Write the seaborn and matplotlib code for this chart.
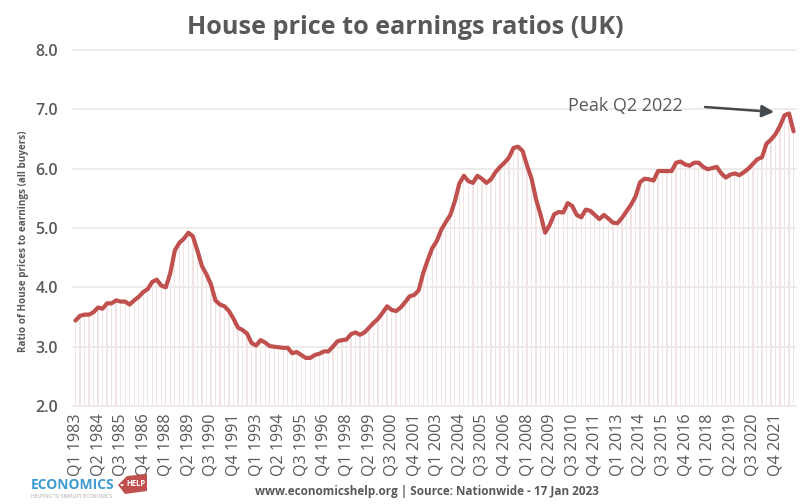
# House price to earnings ratio chart
import pandas as pd
import matplotlib
matplotlib.use("Agg")
import matplotlib.pyplot as plt
from matplotlib.patches import Polygon, Circle
import seaborn as sns

# Data, one row per year from 1983 to 2022
RATIO_VALUES = [
    3.44, 3.52, 3.54, 3.54,  3.58, 3.66, 3.64, 3.73,  3.73, 3.78, 3.76, 3.76,
    3.71, 3.78, 3.84, 3.92,  3.97, 4.09, 4.13, 4.03,  4.00, 4.24, 4.62, 4.75,
    4.82, 4.92, 4.86, 4.62,  4.36, 4.22, 4.05, 3.78,  3.71, 3.68, 3.60, 3.47,
    3.32, 3.28, 3.22, 3.06,  3.02, 3.11, 3.07, 3.01,  3.00, 2.99, 2.98, 2.98,
    2.89, 2.91, 2.86, 2.81,  2.81, 2.86, 2.88, 2.92,  2.92, 3.00, 3.09, 3.11,
    3.12, 3.21, 3.24, 3.20,  3.24, 3.32, 3.40, 3.47,  3.57, 3.68, 3.62, 3.60,
    3.66, 3.75, 3.85, 3.87,  3.95, 4.24, 4.46, 4.66,  4.78, 4.97, 5.10, 5.22,
    5.45, 5.75, 5.88, 5.79,  5.76, 5.88, 5.83, 5.76,  5.82, 5.94, 6.03, 6.10,
    6.19, 6.35, 6.37, 6.30,  6.05, 5.83, 5.48, 5.22,  4.92, 5.05, 5.23, 5.27,
    5.26, 5.42, 5.37, 5.22,  5.18, 5.31, 5.29, 5.22,  5.15, 5.22, 5.16, 5.09,
    5.08, 5.17, 5.28, 5.39,  5.53, 5.77, 5.83, 5.82,  5.80, 5.96, 5.96, 5.96,
    5.96, 6.10, 6.12, 6.07,  6.05, 6.10, 6.10, 6.03,  5.99, 6.01, 6.03, 5.92,
    5.85, 5.90, 5.92, 5.89,  5.94, 6.00, 6.08, 6.16,  6.19, 6.42, 6.49, 6.58,
    6.72, 6.90, 6.93, 6.63,
]
YEARS = list(range(1983, 2023))
QUARTERS = ["Q1", "Q2", "Q3", "Q4"]
Y_TICKS = [2.0, 3.0, 4.0, 5.0, 6.0, 7.0, 8.0]
LABEL_STEP = 5

GREY = "#595959"
LINE_RED = "#C0504D"
DROP_PINK = "#F2E3E5"
GRID_GREY = "#EBE7E8"

sns.set_theme(style="white")
plt.rcParams["font.family"] = ["Open Sans", "DejaVu Sans"]

periods = [f"{q} {y}" for y in YEARS for q in QUARTERS]
df = pd.DataFrame({"period": periods, "ratio": RATIO_VALUES})

fig = plt.figure(figsize=(8, 5.04), dpi=100)
ax = fig.add_axes([73.2 / 800, 1 - 406 / 504, 722.6 / 800, 356 / 504])

# thin bars stand in for the drop lines under the curve
sns.barplot(data=df, x="period", y="ratio", color=DROP_PINK, saturation=1,
            width=0.28, linewidth=0, ax=ax, zorder=2)
sns.lineplot(data=df, x="period", y="ratio", color=LINE_RED, linewidth=3,
             sort=False, errorbar=None, ax=ax, zorder=3)

ax.set_xlim(-0.5, len(periods) - 0.5)
ax.set_ylim(Y_TICKS[0], Y_TICKS[-1])
ax.set_yticks(Y_TICKS)
ax.set_yticklabels([f"{t:.1f}" for t in Y_TICKS], fontsize=11.5,
                   fontweight="semibold", color=GREY)
tick_pos = list(range(0, len(periods), LABEL_STEP))
ax.set_xticks(tick_pos)
ax.set_xticklabels([periods[i] for i in tick_pos], rotation=90, fontsize=11.6,
                   color=GREY)
ax.tick_params(axis="both", length=0)
ax.tick_params(axis="y", pad=11)
ax.tick_params(axis="x", pad=5.5)
ax.set_xlabel("")
ax.set_ylabel("")
ax.grid(axis="y", color=GRID_GREY, linewidth=1.2, zorder=1)
ax.set_axisbelow(True)
sns.despine(ax=ax, left=True, bottom=True, right=True, top=True)
for gl in ax.get_ygridlines():
    gl.set_clip_on(False)

# figure level text, positioned in pixels from the top left
def px(x, y):
    return x / 800, 1 - y / 504

fig.text(*px(405, 28), "House price to earnings ratios (UK)", ha="center",
         va="center", fontsize=18.2, fontweight="bold", color=GREY)
fig.text(*px(24, 241), "Ratio of House prices to earnings (all buyers)",
         rotation=90, ha="center", va="center", fontsize=7.1,
         fontweight="bold", color=GREY)
fig.text(*px(625, 106), "Peak Q2 2022", ha="center", va="center",
         fontsize=13, color=GREY)
ax.annotate("", xy=px(774, 112), xycoords="figure fraction",
            xytext=px(705, 107), textcoords="figure fraction",
            arrowprops=dict(arrowstyle="-|>", color="#44494D", lw=1.8,
                            mutation_scale=18, shrinkA=0, shrinkB=0))
fig.text(*px(427, 492), "www.economicshelp.org | Source: Nationwide - 17 Jan 2023",
         ha="center", va="center", fontsize=8.5, fontweight="bold",
         color=GREY)

# logo
fig.text(*px(31, 485), "ECONOMICS", ha="left", va="center", fontsize=10,
         fontweight="bold", color="#3F9BD0")
fig.text(*px(31, 496), "HELPING TO SIMPLIFY ECONOMICS", ha="left", va="center",
         fontsize=3.6, color="#A8A8A8")
tag = [px(118, 485), px(127, 476), px(147, 474), px(147, 491), px(125, 494)]
fig.add_artist(Polygon(tag, closed=True, transform=fig.transFigure,
                       facecolor="#C0504D", edgecolor="none"))
fig.text(*px(136, 484), "HELP", ha="center", va="center", fontsize=5.5,
         fontweight="bold", color="white")
fig.add_artist(Circle(px(122, 485), 0.002, transform=fig.transFigure,
                      facecolor="white", edgecolor="none"))

fig.savefig("out.png", dpi=100)
